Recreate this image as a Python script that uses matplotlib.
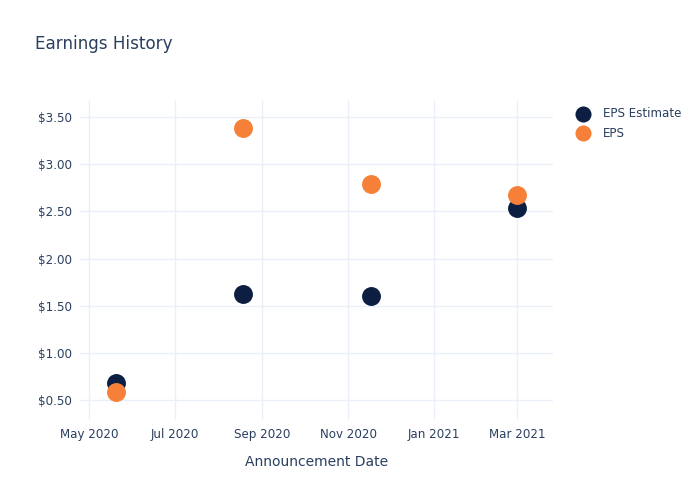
import matplotlib.pyplot as plt
import matplotlib.dates as mdates
import numpy as np

# dane
daty = np.array(["2020-05-20", "2020-08-18", "2020-11-17", "2021-03-01"], dtype="datetime64[D]")
eps_estimate = [0.68, 1.62, 1.60, 2.54]
eps = [0.59, 3.38, 2.79, 2.67]

kolorTekstu = "#2a3f5f"
kolorSiatki = "#ebf0f8"
granat = "#0c1f43"
pomarancz = "#f68038"

plt.rcParams["font.family"] = ["DejaVu Sans"]

fig = plt.figure(figsize=(7, 5), dpi=100)
ax = fig.add_axes([80 / 700, 80 / 500, 473 / 700, 320 / 500])

ax.scatter(daty, eps_estimate, s=185, color=granat, label="EPS Estimate", zorder=3, linewidths=0)
ax.scatter(daty, eps, s=185, color=pomarancz, label="EPS", zorder=4, linewidths=0)

ax.set_xlim(np.datetime64("2020-04-24T12:00"), np.datetime64("2021-03-26T12:00"))
ax.set_ylim(0.29, 3.68)

ax.xaxis.set_major_locator(mdates.MonthLocator(bymonth=[1, 3, 5, 7, 9, 11]))
ax.xaxis.set_major_formatter(mdates.DateFormatter("%b %Y"))
ax.set_yticks([0.5, 1.0, 1.5, 2.0, 2.5, 3.0, 3.5])
ax.yaxis.set_major_formatter(plt.FuncFormatter(lambda v, p: f"${v:.2f}"))

ax.grid(True, color=kolorSiatki, linewidth=1)
ax.set_axisbelow(True)
for s in ax.spines.values():
    s.set_visible(False)
ax.tick_params(length=0, labelsize=8.6, labelcolor=kolorTekstu, pad=6)

ax.set_xlabel("Announcement Date", fontsize=10, color=kolorTekstu, labelpad=10)
fig.text(35 / 700, 1 - 44 / 500, "Earnings History", fontsize=12.1, color=kolorTekstu, va="center")

leg = ax.legend(loc="upper left", bbox_to_anchor=(1.029, 0.993), frameon=False,
                fontsize=8.6, labelcolor=kolorTekstu, handletextpad=0.6,
                borderaxespad=0, labelspacing=0.55, markerscale=0.85)

fig.savefig("out.png", dpi=100)
